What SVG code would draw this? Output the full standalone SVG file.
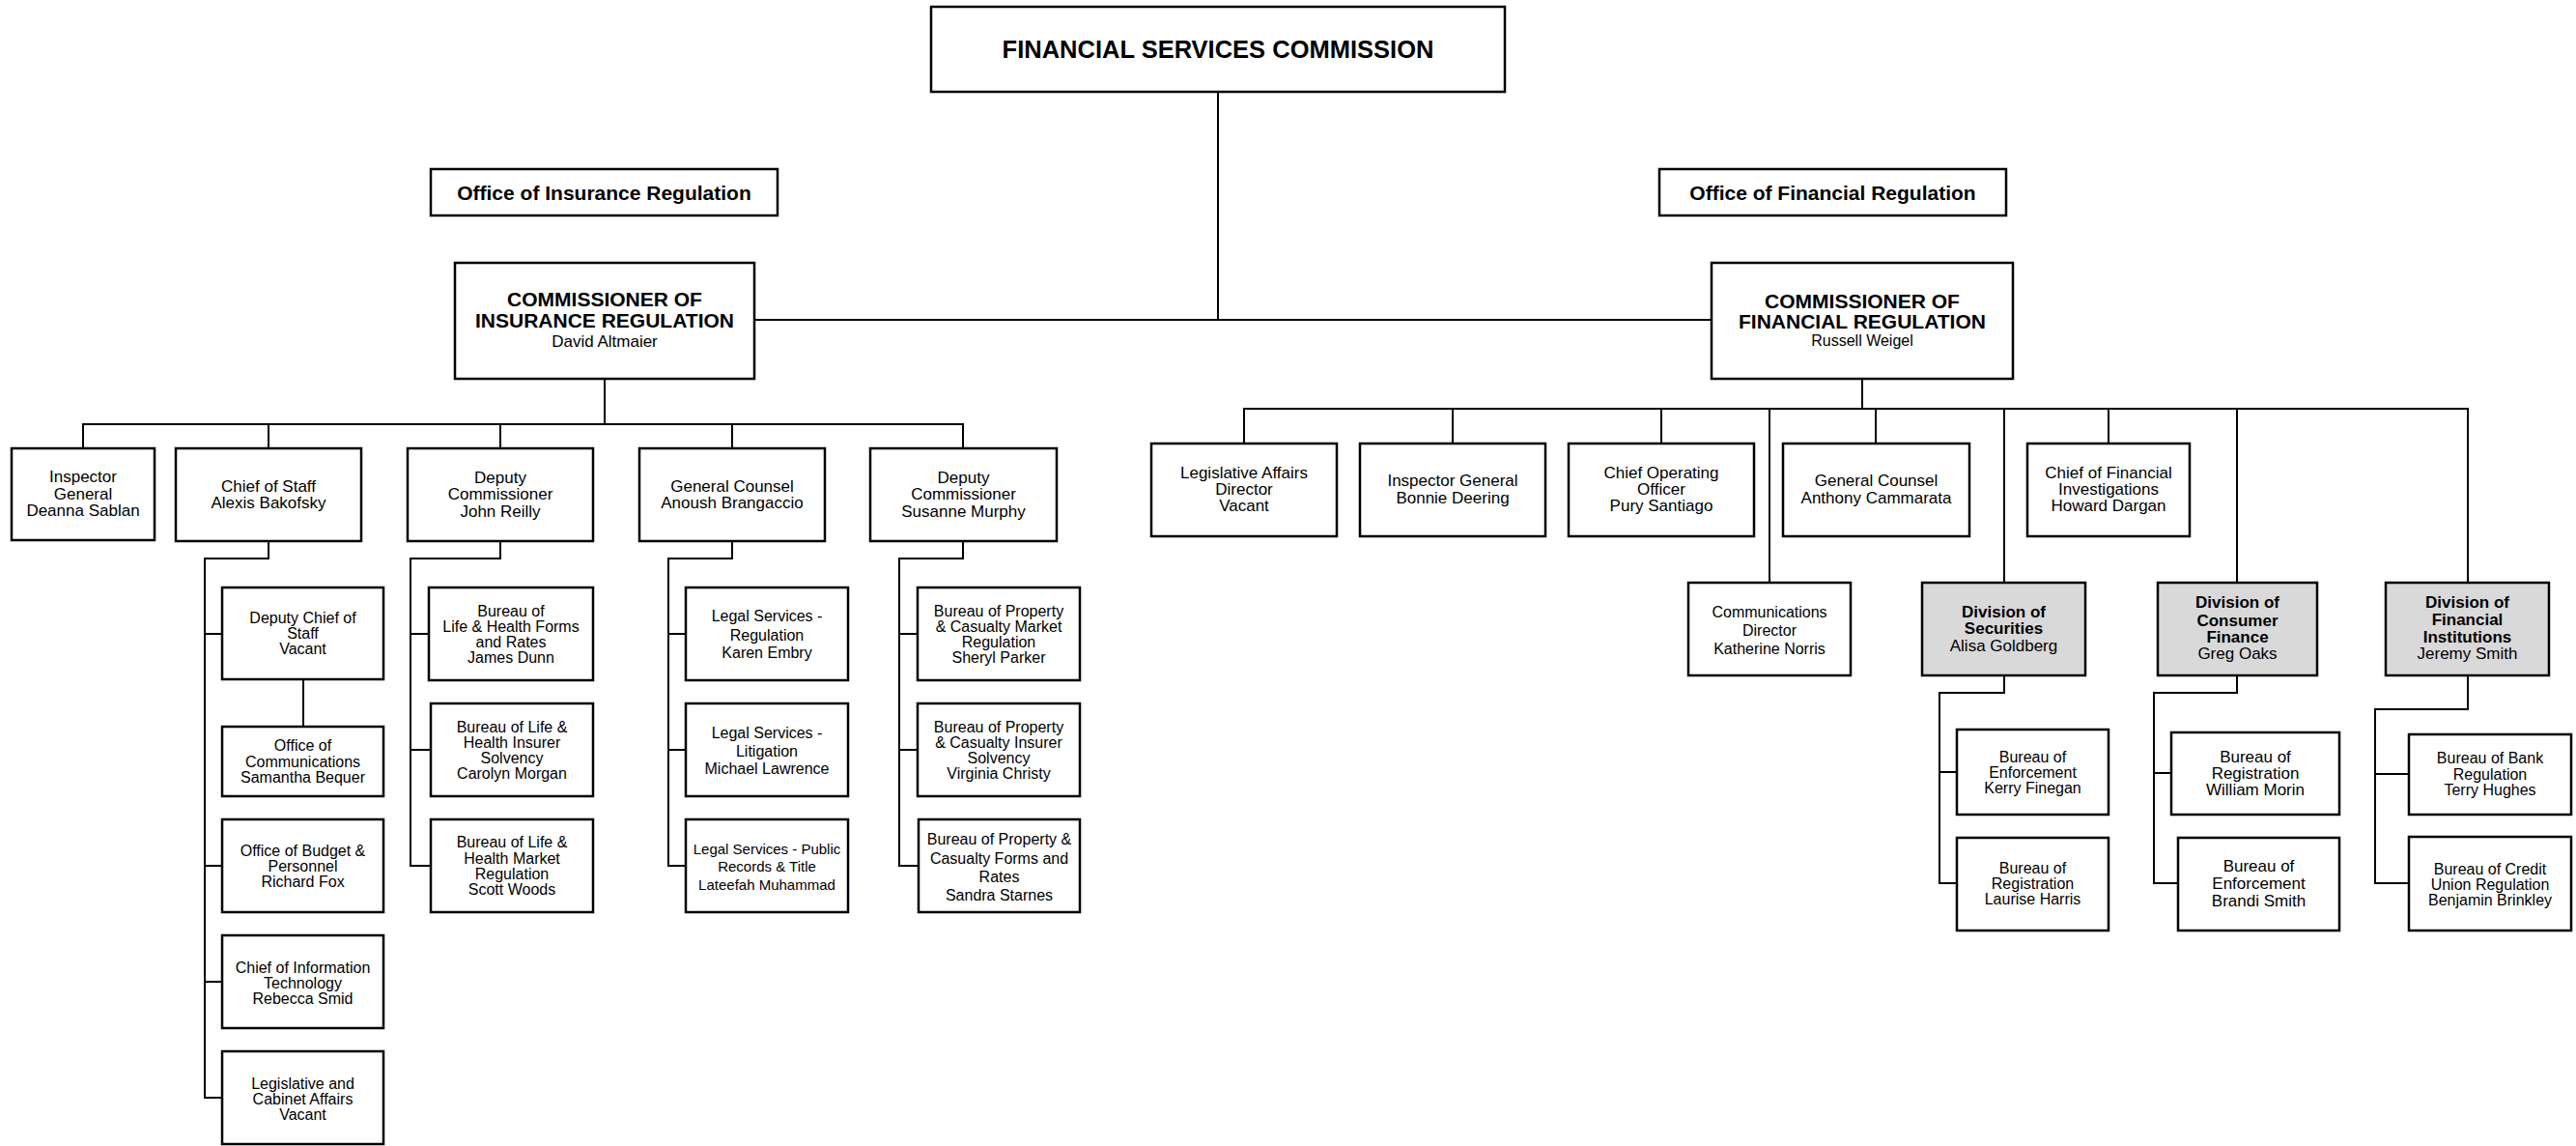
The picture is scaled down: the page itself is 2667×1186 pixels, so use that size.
<svg xmlns="http://www.w3.org/2000/svg" width="2667" height="1186" viewBox="0 0 2667 1186">
<style>
.box{fill:#fff;stroke:#000;stroke-width:2.5}
.gray{fill:#d9d9d9}
.conn{fill:none;stroke:#000;stroke-width:2}
text{font-family:"Liberation Sans",Arial,Helvetica,sans-serif;text-anchor:middle;fill:#000}
.b{font-weight:bold}
.s15{font-size:15px}.s16{font-size:16px}.s17{font-size:17px}.s21{font-size:21px}
</style>
<rect width="2667" height="1186" fill="#fff"/>
<g id="connectors" class="conn">
<path d="M1261 95V331 M781 331H1772"/>
<path d="M626 392V439 M86 464V439H997V464 M278 439V464 M518 439V464 M758 439V464"/>
<path d="M278 560V578H212V1136H230 M212 656H230 M212 896H230 M212 1016H230 M314 703V752"/>
<path d="M518 560V578H425V896H446 M425 656H444 M425 776H446"/>
<path d="M758 560V578H692V896H710 M692 656H710 M692 776H710"/>
<path d="M997 560V578H931V896H951 M931 656H950 M931 776H950"/>
<path d="M1928 392V423 M1288 459V423H2555V603 M1504 423V459 M1720 423V459 M1832 423V603 M1942 423V459 M2075 423V603 M2183 423V459 M2316 423V603"/>
<path d="M2075 699V717H2008V914H2026 M2008 799H2026"/>
<path d="M2316 699V717H2230V914H2255 M2230 800H2248"/>
<path d="M2555 699V734H2459V914H2494 M2459 801H2494"/>
</g>
<g id="fsc"><rect class="box" x="964" y="7" width="594" height="88"/><text class="b" x="1261" y="60" font-size="25.5">FINANCIAL SERVICES COMMISSION</text></g>
<g id="oir"><rect class="box" x="446" y="175" width="359" height="48"/><text class="b s21" x="625.5" y="206.5">Office of Insurance Regulation</text></g>
<g id="ofr"><rect class="box" x="1718" y="175" width="359" height="48"/><text class="b s21" x="1897.5" y="206.5">Office of Financial Regulation</text></g>
<g id="cir"><rect class="box" x="471" y="272" width="310" height="120"/><text class="b s21" x="626"><tspan x="626" y="317">COMMISSIONER OF</tspan><tspan x="626" y="339">INSURANCE REGULATION</tspan></text><text class="s17" x="626" y="359">David Altmaier</text></g>
<g id="cfr"><rect class="box" x="1772" y="272" width="312" height="120"/><text class="b s21" x="1928"><tspan x="1928" y="319">COMMISSIONER OF</tspan><tspan x="1928" y="340">FINANCIAL REGULATION</tspan></text><text class="s16" x="1928" y="358">Russell Weigel</text></g>

<g id="ig-ins"><rect class="box" x="12" y="464" width="148" height="95"/><text class="s17"><tspan x="86" y="499">Inspector</tspan><tspan x="86" y="517">General</tspan><tspan x="86" y="534">Deanna Sablan</tspan></text></g>
<g id="cos"><rect class="box" x="182" y="464" width="192" height="96"/><text class="s17"><tspan x="278" y="509">Chief of Staff</tspan><tspan x="278" y="526">Alexis Bakofsky</tspan></text></g>
<g id="dc-jr"><rect class="box" x="422" y="464" width="192" height="96"/><text class="s17"><tspan x="518" y="500">Deputy</tspan><tspan x="518" y="517">Commissioner</tspan><tspan x="518" y="535">John Reilly</tspan></text></g>
<g id="gc-ins"><rect class="box" x="662" y="464" width="192" height="96"/><text class="s17"><tspan x="758" y="509">General Counsel</tspan><tspan x="758" y="526">Anoush Brangaccio</tspan></text></g>
<g id="dc-sm"><rect class="box" x="901" y="464" width="193" height="96"/><text class="s17"><tspan x="997.5" y="500">Deputy</tspan><tspan x="997.5" y="517">Commissioner</tspan><tspan x="997.5" y="535">Susanne Murphy</tspan></text></g>

<g id="dcos"><rect class="box" x="230" y="608" width="167" height="95"/><text class="s16"><tspan x="313.5" y="645">Deputy Chief of</tspan><tspan x="313.5" y="661">Staff</tspan><tspan x="313.5" y="677">Vacant</tspan></text></g>
<g id="ocomm"><rect class="box" x="230" y="752" width="167" height="72"/><text class="s16"><tspan x="313.5" y="777">Office of</tspan><tspan x="313.5" y="794">Communications</tspan><tspan x="313.5" y="810">Samantha Bequer</tspan></text></g>
<g id="obud"><rect class="box" x="230" y="848" width="167" height="96"/><text class="s16"><tspan x="313.5" y="886">Office of Budget &amp;</tspan><tspan x="313.5" y="902">Personnel</tspan><tspan x="313.5" y="918">Richard Fox</tspan></text></g>
<g id="cit"><rect class="box" x="230" y="968" width="167" height="96"/><text class="s16"><tspan x="313.5" y="1007">Chief of Information</tspan><tspan x="313.5" y="1023">Technology</tspan><tspan x="313.5" y="1039">Rebecca Smid</tspan></text></g>
<g id="lca"><rect class="box" x="230" y="1088" width="167" height="96"/><text class="s16"><tspan x="313.5" y="1127">Legislative and</tspan><tspan x="313.5" y="1143">Cabinet Affairs</tspan><tspan x="313.5" y="1159">Vacant</tspan></text></g>

<g id="lh-forms"><rect class="box" x="444" y="608" width="170" height="96"/><text class="s16"><tspan x="529" y="638">Bureau of</tspan><tspan x="529" y="654">Life &amp; Health Forms</tspan><tspan x="529" y="670">and Rates</tspan><tspan x="529" y="686">James Dunn</tspan></text></g>
<g id="lh-solv"><rect class="box" x="446" y="728" width="168" height="96"/><text class="s16"><tspan x="530" y="758">Bureau of Life &amp;</tspan><tspan x="530" y="774">Health Insurer</tspan><tspan x="530" y="790">Solvency</tspan><tspan x="530" y="806">Carolyn Morgan</tspan></text></g>
<g id="lh-market"><rect class="box" x="446" y="848" width="168" height="96"/><text class="s16"><tspan x="530" y="877">Bureau of Life &amp;</tspan><tspan x="530" y="894">Health Market</tspan><tspan x="530" y="910">Regulation</tspan><tspan x="530" y="926">Scott Woods</tspan></text></g>

<g id="ls-reg"><rect class="box" x="710" y="608" width="168" height="96"/><text class="s16"><tspan x="794" y="643">Legal Services -</tspan><tspan x="794" y="663">Regulation</tspan><tspan x="794" y="681">Karen Embry</tspan></text></g>
<g id="ls-lit"><rect class="box" x="710" y="728" width="168" height="96"/><text class="s16"><tspan x="794" y="764">Legal Services -</tspan><tspan x="794" y="783">Litigation</tspan><tspan x="794" y="801">Michael Lawrence</tspan></text></g>
<g id="ls-pub"><rect class="box" x="710" y="848" width="168" height="96"/><text class="s15"><tspan x="794" y="884">Legal Services - Public</tspan><tspan x="794" y="902">Records &amp; Title</tspan><tspan x="794" y="921">Lateefah Muhammad</tspan></text></g>

<g id="pc-market"><rect class="box" x="950" y="608" width="168" height="96"/><text class="s16"><tspan x="1034" y="638">Bureau of Property</tspan><tspan x="1034" y="654">&amp; Casualty Market</tspan><tspan x="1034" y="670">Regulation</tspan><tspan x="1034" y="686">Sheryl Parker</tspan></text></g>
<g id="pc-solv"><rect class="box" x="950" y="728" width="168" height="96"/><text class="s16"><tspan x="1034" y="758">Bureau of Property</tspan><tspan x="1034" y="774">&amp; Casualty Insurer</tspan><tspan x="1034" y="790">Solvency</tspan><tspan x="1034" y="806">Virginia Christy</tspan></text></g>
<g id="pc-forms"><rect class="box" x="951" y="848" width="167" height="96"/><text class="s16"><tspan x="1034.5" y="874">Bureau of Property &amp;</tspan><tspan x="1034.5" y="894">Casualty Forms and</tspan><tspan x="1034.5" y="913">Rates</tspan><tspan x="1034.5" y="932">Sandra Starnes</tspan></text></g>

<g id="lad"><rect class="box" x="1192" y="459" width="192" height="96"/><text class="s17"><tspan x="1288" y="495">Legislative Affairs</tspan><tspan x="1288" y="512">Director</tspan><tspan x="1288" y="529">Vacant</tspan></text></g>
<g id="ig-fin"><rect class="box" x="1408" y="459" width="192" height="96"/><text class="s17"><tspan x="1504" y="503">Inspector General</tspan><tspan x="1504" y="521">Bonnie Deering</tspan></text></g>
<g id="coo"><rect class="box" x="1624" y="459" width="192" height="96"/><text class="s17"><tspan x="1720" y="495">Chief Operating</tspan><tspan x="1720" y="512">Officer</tspan><tspan x="1720" y="529">Pury Santiago</tspan></text></g>
<g id="gc-fin"><rect class="box" x="1846" y="459" width="193" height="96"/><text class="s17"><tspan x="1942.5" y="503">General Counsel</tspan><tspan x="1942.5" y="521">Anthony Cammarata</tspan></text></g>
<g id="cfi"><rect class="box" x="2099" y="459" width="168" height="96"/><text class="s17"><tspan x="2183" y="495">Chief of Financial</tspan><tspan x="2183" y="512">Investigations</tspan><tspan x="2183" y="529">Howard Dargan</tspan></text></g>

<g id="cd"><rect class="box" x="1748" y="603" width="168" height="96"/><text class="s16"><tspan x="1832" y="639">Communications</tspan><tspan x="1832" y="658">Director</tspan><tspan x="1832" y="677">Katherine Norris</tspan></text></g>
<g id="dsec"><rect class="box gray" x="1990" y="603" width="169" height="96"/><text class="s17"><tspan class="b" x="2074.5" y="639">Division of</tspan><tspan class="b" x="2074.5" y="656">Securities</tspan><tspan x="2074.5" y="674">Alisa Goldberg</tspan></text></g>
<g id="dcf"><rect class="box gray" x="2234" y="603" width="165" height="96"/><text class="s17"><tspan class="b" x="2316.5" y="629">Division of</tspan><tspan class="b" x="2316.5" y="648">Consumer</tspan><tspan class="b" x="2316.5" y="665">Finance</tspan><tspan x="2316.5" y="682">Greg Oaks</tspan></text></g>
<g id="dfi"><rect class="box gray" x="2470" y="603" width="169" height="96"/><text class="s17"><tspan class="b" x="2554.5" y="629">Division of</tspan><tspan class="b" x="2554.5" y="647">Financial</tspan><tspan class="b" x="2554.5" y="665">Institutions</tspan><tspan x="2554.5" y="682">Jeremy Smith</tspan></text></g>

<g id="sec-enf"><rect class="box" x="2026" y="755" width="157" height="88"/><text class="s16"><tspan x="2104.5" y="789">Bureau of</tspan><tspan x="2104.5" y="805">Enforcement</tspan><tspan x="2104.5" y="821">Kerry Finegan</tspan></text></g>
<g id="sec-reg"><rect class="box" x="2026" y="867" width="157" height="96"/><text class="s16"><tspan x="2104.5" y="904">Bureau of</tspan><tspan x="2104.5" y="920">Registration</tspan><tspan x="2104.5" y="936">Laurise Harris</tspan></text></g>
<g id="cf-reg"><rect class="box" x="2248" y="758" width="174" height="85"/><text class="s17"><tspan x="2335" y="789">Bureau of</tspan><tspan x="2335" y="806">Registration</tspan><tspan x="2335" y="823">William Morin</tspan></text></g>
<g id="cf-enf"><rect class="box" x="2255" y="867" width="167" height="96"/><text class="s17"><tspan x="2338.5" y="902">Bureau of</tspan><tspan x="2338.5" y="920">Enforcement</tspan><tspan x="2338.5" y="938">Brandi Smith</tspan></text></g>
<g id="fi-bank"><rect class="box" x="2494" y="760" width="168" height="83"/><text class="s16"><tspan x="2578" y="790">Bureau of Bank</tspan><tspan x="2578" y="807">Regulation</tspan><tspan x="2578" y="823">Terry Hughes</tspan></text></g>
<g id="fi-cu"><rect class="box" x="2494" y="866" width="168" height="97"/><text class="s16"><tspan x="2578" y="905">Bureau of Credit</tspan><tspan x="2578" y="921">Union Regulation</tspan><tspan x="2578" y="937">Benjamin Brinkley</tspan></text></g>
</svg>
